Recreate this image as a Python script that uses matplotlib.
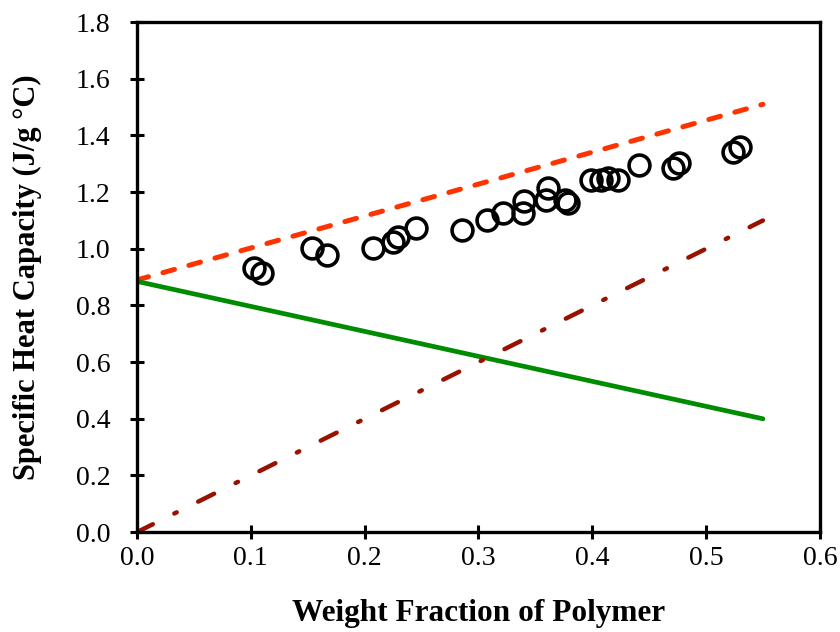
import numpy as np
import matplotlib.pyplot as plt

plt.rcParams['font.family'] = ['Liberation Serif', 'DejaVu Serif']

# measured data (weight fraction, Cp)
wf = [0.103, 0.110, 0.154, 0.167, 0.207, 0.225, 0.229, 0.245, 0.286, 0.308,
      0.322, 0.339, 0.340, 0.359, 0.361, 0.376, 0.379, 0.399, 0.408, 0.414,
      0.423, 0.441, 0.471, 0.476, 0.524, 0.530]
cp = [0.932, 0.914, 1.002, 0.978, 1.002, 1.024, 1.041, 1.073, 1.066, 1.101,
      1.126, 1.126, 1.168, 1.172, 1.214, 1.172, 1.161, 1.242, 1.242, 1.250,
      1.242, 1.295, 1.285, 1.302, 1.341, 1.359]

# model lines
x_line = [0.0, 0.55]
upper = [0.89, 1.51]
lower = [0.885, 0.40]
polymer = [0.0, 1.10]

fig = plt.figure(figsize=(8.4, 6.32), dpi=100)
ax = fig.add_axes([0.163, 0.158, 0.813, 0.807])

ax.plot(x_line, upper, color='#FF3300', lw=3.6, ls=(0, (2.4, 3.0)),
        dash_capstyle='round', zorder=2)
ax.plot(x_line, lower, color='#008C00', lw=3.4, solid_capstyle='round', zorder=2)
ax.plot(x_line, polymer, color='#991100', lw=3.2, ls=(0, (4, 5.4, 0.6, 5.4)),
        dash_capstyle='round', zorder=2)
ax.plot(wf, cp, 'o', ms=15, mfc='none', mec='black', mew=2.6, zorder=3)

ax.set_xlim(0, 0.6)
ax.set_ylim(0, 1.8)
ax.set_xticks(np.arange(0, 0.61, 0.1))
ax.set_yticks(np.arange(0, 1.81, 0.2))
ax.set_xticklabels([f'{v:.1f}' for v in np.arange(0, 0.61, 0.1)])
ax.set_yticklabels([f'{v:.1f}' for v in np.arange(0, 1.81, 0.2)])
ax.tick_params(direction='inout', length=10, width=2.2, labelsize=20)
ax.tick_params(axis='x', pad=5)
ax.tick_params(axis='y', pad=14)
for s in ax.spines.values():
    s.set_linewidth(2.4)

ax.set_xlabel('Weight Fraction of Polymer', fontsize=22.5, fontweight='bold', labelpad=20)
ax.set_ylabel('Specific Heat Capacity (J/g °C)', fontsize=22, fontweight='bold', labelpad=24)

fig.savefig('out.png', dpi=100)
